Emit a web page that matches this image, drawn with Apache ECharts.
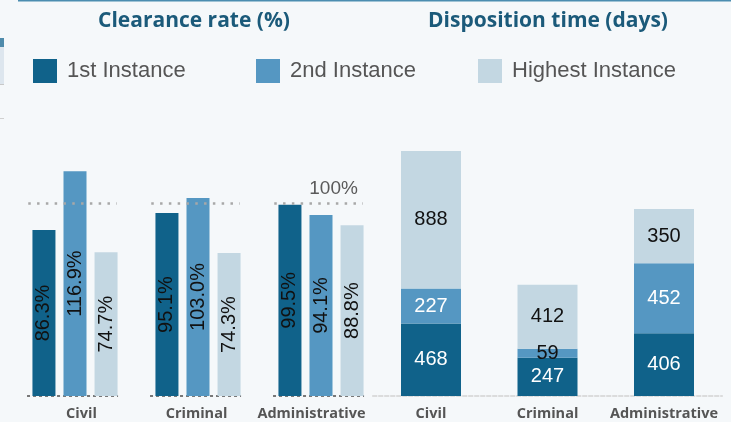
<!DOCTYPE html>
<html><head><meta charset="utf-8">
<script src="https://cdn.jsdelivr.net/npm/echarts@6/dist/echarts.min.js"></script>
<style>html,body{margin:0;padding:0;background:#f5f8fa;}#c{width:731px;height:422px;}</style>
</head><body><div id="c"></div>
<script>
const categories = ['Civil', 'Criminal', 'Administrative'];
const seriesNames = ['1st Instance', '2nd Instance', 'Highest Instance'];
// Clearance rate (%)
const clearance1st = [86.3, 95.1, 99.5];
const clearance2nd = [116.9, 103.0, 94.1];
const clearanceHighest = [74.7, 74.3, 88.8];
// Disposition time (days)
const disposition1st = [468, 247, 406];
const disposition2nd = [227, 59, 452];
const dispositionHighest = [888, 412, 350];
const referenceRate = 100;
const referenceLabel = '100%';
const titles = ['Clearance rate (%)', 'Disposition time (days)'];

const colors = ['#10628a', '#5597c2', '#c3d7e2'];
const clearance = [clearance1st, clearance2nd, clearanceHighest];
const disposition = [disposition1st, disposition2nd, dispositionHighest];
const rateMax = 130, daysMax = 1615;
const gridTop = 146, gridBottom = 26;
const labelFont = 'Liberation Sans, Arial, sans-serif';
const catFont = '"Open Sans", "Noto Sans", sans-serif';

const chart = echarts.init(document.getElementById('c'));

const series = [];
clearance.forEach((vals, s) => {
  series.push({
    name: seriesNames[s], type: 'bar', xAxisIndex: 0, yAxisIndex: 0,
    barWidth: 23, barGap: '35%', z: 3,
    itemStyle: { color: colors[s] },
    label: { show: true, position: 'inside', rotate: 90, fontSize: 20, color: '#111',
      fontFamily: labelFont, formatter: p => p.value.toFixed(1) + '%' },
    data: vals
  });
});
const pxPerDay = (422 - gridTop - gridBottom) / daysMax;
disposition.forEach((vals, s) => {
  series.push({
    name: seriesNames[s], type: 'bar', xAxisIndex: 2, yAxisIndex: 1, stack: 'days',
    barWidth: 60,
    itemStyle: { color: colors[s] },
    label: { show: true, position: 'inside', fontSize: 20, fontFamily: labelFont,
      color: s === 2 ? '#111' : '#fff' },
    data: vals.map(v => (v * pxPerDay < 20 ? { value: v, label: { color: '#111' } } : v))
  });
});
// reference dotted lines at 100% per group
series.push({
  type: 'lines', coordinateSystem: 'cartesian2d', xAxisIndex: 1, yAxisIndex: 0, z: 4,
  silent: true, symbol: 'none',
  lineStyle: { color: '#a8a8a8', width: 2.5, type: [2.5, 6.3], opacity: 1 },
  data: categories.map((c, i) => ({ coords: [[i - 0.38, referenceRate], [i + 0.34, referenceRate]] }))
});
// baseline dashes per group
series.push({
  type: 'lines', coordinateSystem: 'cartesian2d', xAxisIndex: 1, yAxisIndex: 0, z: 1,
  silent: true, symbol: 'none',
  lineStyle: { color: '#777', width: 2, type: [3, 3], opacity: 1 },
  data: categories.map((c, i) => ({ coords: [[i - 0.39, 0], [i + 0.35, 0]] }))
});
// 100% label
series.push({
  type: 'scatter', xAxisIndex: 1, yAxisIndex: 0, symbolSize: 1, silent: true,
  itemStyle: { color: 'rgba(0,0,0,0)', opacity: 1 },
  label: { show: true, position: 'top', align: 'right', distance: 5, fontSize: 19,
    color: '#5a5a5a', fontFamily: labelFont, formatter: referenceLabel },
  data: [[categories.length - 1 + 0.30, referenceRate]]
});

const option = {
  backgroundColor: '#f5f8fa',
  animation: false,
  color: colors,
  title: titles.map((t, i) => ({
    text: t, left: i === 0 ? 194 : 548, top: 11, textAlign: 'center', padding: 0,
    textStyle: { fontSize: 21, fontWeight: 'bold', color: '#1b5a7a', fontFamily: catFont }
  })),
  legend: seriesNames.map((n, i) => ({
    data: [n], left: [33, 256, 478][i], top: 59, padding: 0,
    itemWidth: 24, itemHeight: 24, icon: 'rect', selectedMode: false,
    textStyle: { fontSize: 22, color: '#555', fontFamily: labelFont, padding: [0, 0, 0, 5] }
  })),
  grid: [
    { left: 13.5, right: 348.5, top: gridTop, bottom: gridBottom },
    { left: 372.75, right: 8.75, top: gridTop, bottom: gridBottom },
    { left: 24, right: 362, top: gridTop, bottom: gridBottom }
  ],
  xAxis: [
    { type: 'category', gridIndex: 0, data: categories, axisLine: { show: false },
      axisTick: { show: false }, axisLabel: { show: false } },
    { type: 'value', gridIndex: 0, min: -0.5, max: 2.5, show: false },
    { type: 'category', gridIndex: 1, data: categories,
      axisLine: { show: true, lineStyle: { color: '#d2d2d2', width: 1.5, type: [4, 2] } },
      axisTick: { show: false },
      axisLabel: { interval: 0, margin: 10, fontSize: 14.5, fontWeight: 'bold', color: '#555', fontFamily: catFont } },
    { type: 'category', gridIndex: 2, data: categories, axisLine: { show: false },
      axisTick: { show: false },
      axisLabel: { interval: 0, margin: 10, fontSize: 14.5, fontWeight: 'bold', color: '#555', fontFamily: catFont } }
  ],
  yAxis: [
    { type: 'value', gridIndex: 0, min: 0, max: rateMax, show: false },
    { type: 'value', gridIndex: 1, min: 0, max: daysMax, show: false },
    { type: 'value', gridIndex: 2, min: 0, max: 1, show: false }
  ],
  graphic: [
    { type: 'rect', shape: { x: 18, y: 0, width: 713, height: 1.5 }, style: { fill: '#4b8db0' } },
    { type: 'rect', shape: { x: 0, y: 38, width: 4, height: 9 }, style: { fill: '#4f8bab' } },
    { type: 'rect', shape: { x: 0, y: 47, width: 4, height: 37 }, style: { fill: '#dde6ee' } },
    { type: 'rect', shape: { x: 0, y: 84, width: 4, height: 1 }, style: { fill: '#c8c8c8' } },
    { type: 'rect', shape: { x: 0, y: 118, width: 4, height: 1 }, style: { fill: '#d0d0d0' } }
  ],
  series: series
};
chart.setOption(option);
</script>
</body></html>
